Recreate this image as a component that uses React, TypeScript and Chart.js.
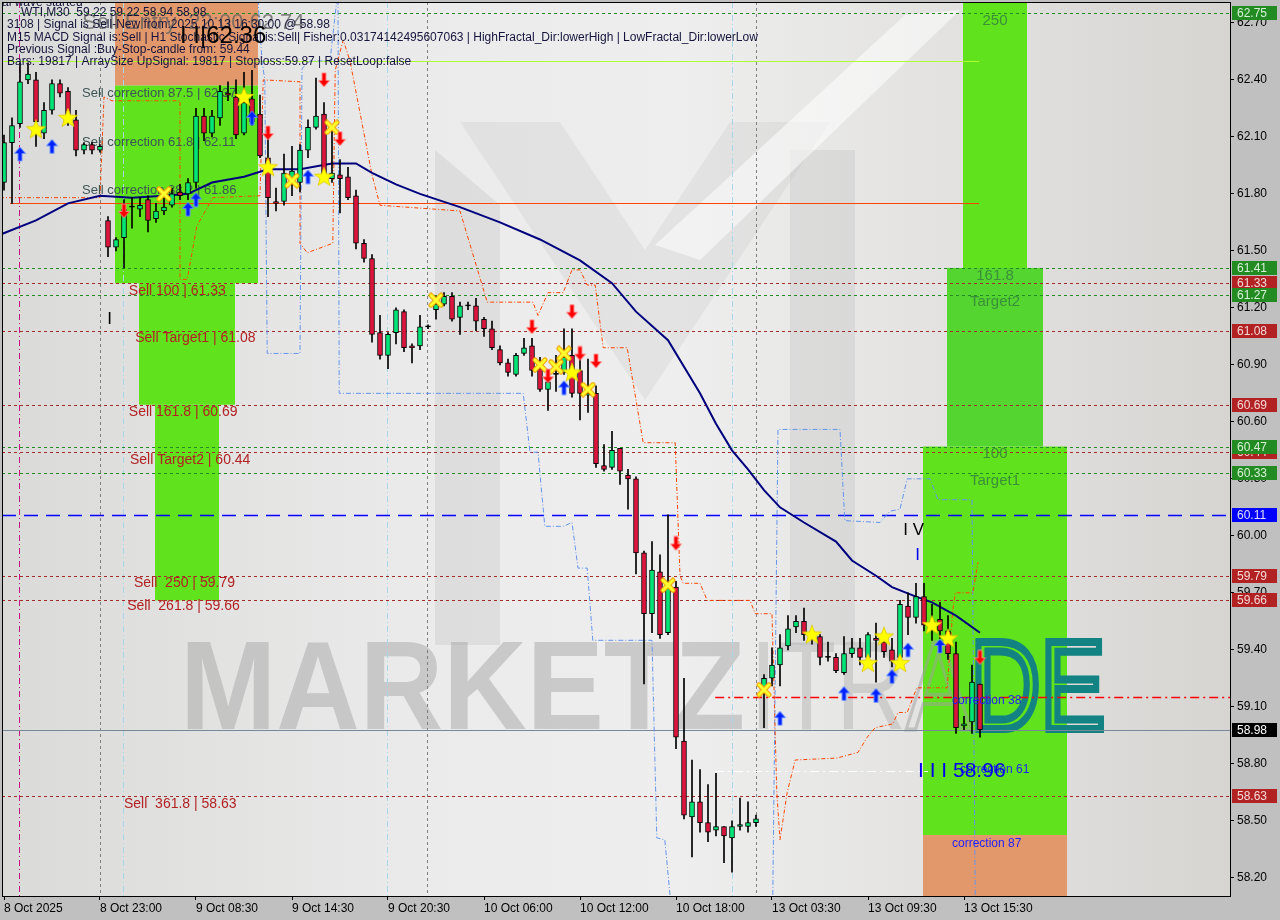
import React, { useEffect, useRef } from "react";
import { Chart, registerables } from "chart.js";
Chart.register(...registerables);

// ---------- candles (WTI, M30) ----------
const opens = [61.86,62.07,62.17,62.40,62.40,62.12,62.24,62.38,62.34,62.19,62.03,62.06,62.03,61.66,61.52,61.57,61.73,61.72,61.77,61.67,61.71,61.74,61.81,61.80,61.86,62.21,62.12,62.20,62.33,62.31,62.12,62.30,62.22,61.99,61.76,61.76,61.88,61.86,62.03,62.15,62.22,61.88,61.90,61.89,61.79,61.54,61.46,61.07,60.95,61.07,61.18,61.00,61.00,61.10,61.19,61.22,61.26,61.15,61.21,61.21,61.14,61.09,60.98,60.91,60.85,60.96,61.00,60.88,60.77,60.85,60.86,60.95,60.87,60.74,60.75,60.37,60.36,60.46,60.32,60.30,59.91,59.59,59.81,59.49,59.73,58.92,58.52,58.60,58.49,58.45,58.47,58.41,58.47,58.47,58.49,59.20,59.25,59.32,59.42,59.52,59.55,59.48,59.47,59.36,59.36,59.28,59.38,59.41,59.36,59.46,59.44,59.40,59.36,59.63,59.57,59.68,59.55,59.56,59.50,59.38,59.00,59.02,59.22];
const highs = [62.11,62.20,62.49,62.49,62.44,62.28,62.40,62.40,62.36,62.24,62.07,62.07,62.06,61.68,61.57,61.77,61.78,61.78,61.79,61.75,61.78,61.83,61.85,61.88,62.25,62.25,62.24,62.37,62.39,62.40,62.44,62.45,62.32,62.10,61.83,62.01,62.05,62.06,62.19,62.41,62.28,62.15,61.98,61.94,61.82,61.56,61.48,61.16,61.07,61.20,61.19,61.01,61.16,61.11,61.26,61.28,61.28,61.23,61.23,61.25,61.15,61.13,61.00,60.93,60.96,61.04,61.04,60.94,60.85,60.95,61.09,61.09,60.93,60.93,60.79,60.48,60.55,60.46,60.35,60.31,59.92,59.97,59.90,60.11,59.76,59.25,58.82,58.77,58.69,58.75,58.47,58.50,58.62,58.60,58.53,59.27,59.41,59.48,59.58,59.58,59.62,59.51,59.48,59.44,59.38,59.47,59.46,59.46,59.49,59.54,59.50,59.46,59.66,59.70,59.75,59.75,59.64,59.65,59.58,59.44,59.05,59.32,59.22];
const lows = [61.82,61.75,62.15,62.38,62.05,62.09,62.22,62.31,62.16,62.00,62.01,62.01,62.02,61.47,61.50,61.41,61.62,61.68,61.60,61.65,61.69,61.73,61.77,61.77,61.83,62.08,62.10,62.16,62.29,62.09,62.11,62.16,61.99,61.68,61.71,61.74,61.79,61.81,61.99,62.14,61.87,61.86,61.70,61.77,61.51,61.44,61.02,60.93,60.88,61.01,60.97,60.91,60.98,61.09,61.14,61.21,61.13,61.06,61.19,61.08,61.05,60.98,60.90,60.84,60.84,60.95,60.84,60.76,60.66,60.76,60.85,60.73,60.61,60.65,60.36,60.34,60.35,60.27,60.14,59.80,59.22,59.49,59.46,59.48,58.88,58.51,58.31,58.44,58.39,58.42,58.28,58.23,58.45,58.44,58.47,58.99,59.21,59.21,59.40,59.49,59.45,59.43,59.32,59.34,59.28,59.27,59.36,59.32,59.34,59.23,59.36,59.31,59.34,59.48,59.54,59.50,59.45,59.46,59.35,58.96,58.98,58.96,58.94];
const closes = [62.07,62.16,62.39,62.43,62.18,62.24,62.38,62.33,62.19,62.03,62.06,62.03,62.05,61.52,61.56,61.72,61.73,61.74,61.66,61.71,61.73,61.80,61.79,61.86,62.21,62.12,62.21,62.34,62.32,62.11,62.28,62.18,62.00,61.78,61.75,61.91,61.92,62.03,62.15,62.21,61.90,61.91,61.88,61.78,61.54,61.46,61.06,60.95,61.06,61.19,60.99,60.99,61.10,61.10,61.22,61.26,61.14,61.21,61.21,61.13,61.09,60.99,60.91,60.86,60.95,60.99,60.87,60.77,60.81,60.85,60.94,60.75,60.75,60.75,60.38,60.35,60.45,60.34,60.30,59.91,59.59,59.82,59.48,59.73,58.94,58.53,58.60,58.49,58.44,58.47,58.42,58.47,58.48,58.49,58.51,59.25,59.32,59.41,59.51,59.55,59.48,59.46,59.36,59.36,59.29,59.38,59.41,59.36,59.48,59.45,59.39,59.34,59.64,59.57,59.68,59.53,59.51,59.50,59.38,58.99,59.01,59.23,58.98];

// ---------- axes ----------
const timeTickIdx = [0,12,24,36,48,60,72,84,96,108,120];
const timeTickLabels = ["8 Oct 2025","8 Oct 23:00","9 Oct 08:30","9 Oct 14:30","9 Oct 20:30","10 Oct 06:00","10 Oct 12:00","10 Oct 18:00","13 Oct 03:30","13 Oct 09:30","13 Oct 15:30"];
const priceTicks = [58.2,58.5,58.8,59.1,59.4,59.7,60.0,60.3,60.6,60.9,61.2,61.5,61.8,62.1,62.4,62.7];
const priceMin = 58.104;
const priceMax = 62.81;
const idxMin = -0.25;
const idxMax = 153.25;

// ---------- moving average ----------
const maIdx = [-0.2,4,8,12,16,20,23,26,30,33,37,41,44,46,49,52,57,62,67,72,76,79,83,87,89,91,93,95,97,100,104,106,109,111,114,116,119,122];
const maVal = [61.59,61.66,61.75,61.79,61.78,61.79,61.80,61.86,61.89,61.93,61.93,61.96,61.96,61.91,61.85,61.80,61.73,61.65,61.56,61.45,61.33,61.18,61.03,60.75,60.59,60.45,60.35,60.24,60.15,60.07,59.97,59.87,59.79,59.73,59.68,59.65,59.58,59.49];

// ---------- channel lines ----------
const upperIdx = [-0.5,12,12.5,13.5,22,22,22.9,24.1,26.1,32,32.4,37,37,37.9,41.1,41.4,42.4,43.25,46,47,57,60.4,66.1,66.75,68,69.9,71,72,72.9,73.9,74.9,77.9,79.9,83.9,84.5,84.9,87,87.9,93.25,93.9,96,96.6,97,97.9,98.9,104.1,106.75,107.9,108.9,111.1,111.75,112.9,114.1,117.9,118.6,118.9,121.1,121.75];
const upperVal = [61.78,61.78,62.31,62.29,62.29,61.35,61.35,61.63,61.78,61.79,62.40,62.39,61.54,61.49,61.54,62.45,62.61,62.50,61.90,61.74,61.71,61.23,61.23,61.16,61.28,61.28,61.40,61.40,61.32,61.32,60.99,60.99,60.49,60.49,59.79,59.75,59.75,59.66,59.66,59.59,59.59,58.65,58.40,58.65,58.82,58.83,58.86,58.94,58.99,59.01,59.07,59.07,59.20,59.20,59.61,59.70,59.70,59.86];
const lowerAIdx = [31.75,32.25,32.6,32.9,37,37.25,38.25,40.75,41.6];
const lowerAVal = [62.82,62.50,62.40,60.96,60.96,62.46,62.50,62.50,62.82];
const lowerBIdx = [41.75,41.9,64.9,65.75,66.75,67.6,69.9,71,71.75,72.9,73.6,81,81.6,82.6,83.25];
const lowerBVal = [62.82,60.75,60.75,60.44,60.44,60.05,60.05,60.07,59.83,59.83,59.45,59.45,58.41,58.40,58.11];
const lowerCIdx = [96.1,96.75,104.5,105.1,109.5,110.75,112,112.9,115.75,116.75,121,121.4];
const lowerCVal = [58.11,60.56,60.56,60.08,60.07,60.13,60.14,60.30,60.30,60.19,60.19,58.11];

// ---------- signal markers ----------
const upArrowIdx = [2,6,23,24,31,38,70,97,105,109,111,113,117];
const upArrowVal = [62.01,62.05,61.72,61.77,62.20,61.89,60.78,59.04,59.17,59.16,59.26,59.40,59.42];
const downArrowIdx = [15,33,40,42,66,68,71,72,74,84,122];
const downArrowVal = [61.71,62.12,62.40,62.09,61.10,60.84,61.18,60.96,60.92,59.96,59.36];
const starIdx = [4,8,30,33,40,71,101,108,110,112,116,118];
const starVal = [62.14,62.20,62.31,61.94,61.89,60.86,59.48,59.33,59.47,59.33,59.53,59.46];
const crossIdx = [20,36,41,54,67,69,70,73,83,95];
const crossVal = [61.80,61.87,62.15,61.24,60.90,60.89,60.96,60.77,59.74,59.19];

// ---------- levels ----------
const levelPrices = [62.75,61.41,61.33,61.27,61.08,60.69,60.44,60.47,60.33,60.11,59.79,59.66,58.63];
const levelKinds = ["g","g","r","g","r","r","r","g","g","b","r","r","r"];
const currentPrice = 58.98;

// ---------- zones ----------
const zoneFrom = [13.875,13.875,16.875,18.875,119.875,117.875,114.875,114.875];
const zoneTo = [31.75,31.75,28.875,26.875,127.875,129.875,132.875,132.875];
const zoneTop = [62.9,62.37,61.33,60.69,62.9,61.41,60.47,58.425];
const zoneBottom = [62.37,61.33,60.69,59.66,61.41,60.47,58.425,58.0];
const zoneKinds = ["o","g","g","g","g","g2","g","o"];

// ---------- vertical separators ----------
const vLineIdx = [1.875,12,14.875,47.875,52.875,91,94];
const vLineKinds = ["m","s","c","c","s","c","s"];

// ---------- horizontal segments ----------
const segVal = [62.50,61.75,59.15,58.76];
const segFrom = [-0.5,0.75,88.9,88.9];
const segTo = [121.9,121.9,153.5,115.5];
const segKinds = ["yg","or","rd","wd"];

// ---------- texts ----------
const sellText = ["Sell 100 | 61.33","Sell Target1 | 61.08","Sell 161.8 | 60.69","Sell Target2 | 60.44","Sell  250 | 59.79","Sell  261.8 | 59.66","Sell  361.8 | 58.63"];
const sellIdx = [15.6,16.4,15.6,15.75,16.25,15.4,15];
const sellVal = [61.29,61.04,60.65,60.40,59.75,59.63,58.59];
const corrText = ["Sell correction 87.5 | 62.37","Sell correction 61.8 | 62.11","Sell correction 38.2 | 61.86"];
const corrIdx = [9.75,9.75,9.75];
const corrVal = [62.33,62.07,61.82];
const zoneText = ["250","161.8","Target2","100","Target1"];
const zoneTextIdx = [123.875,123.875,123.875,123.875,123.875];
const zoneTextVal = [62.71,61.37,61.23,60.43,60.29];
const blueText = ["correction 38","correction 61","correction 87"];
const blueTextIdx = [118.5,119.5,118.5];
const blueTextVal = [59.13,58.77,58.38];
const infoLines = [
  "WTI,M30  59.22 59.22 58.94 58.98",
  "3108 | Signal is Sell-New from:2025.10.13 16:30:00 @ 58.98",
  "M15 MACD Signal is:Sell | H1 Stochastic Signal is:Sell| Fisher:0.03174142495607063 | HighFractal_Dir:lowerHigh | LowFractal_Dir:lowerLow",
  "Previous Signal :Buy-Stop-candle from: 59.44",
  "Bars: 19817 | ArraySize UpSignal: 19817 | Stoploss:59.87 | ResetLoop:false",
];

const UP = "#00e676";
const DOWN = "#dc143c";
const FONT = '"Liberation Sans", Arial, sans-serif';

function arrowCanvas(fill: string, edge: string, up: boolean) {
  const c = document.createElement("canvas");
  c.width = 13; c.height = 16;
  const g = c.getContext("2d")!;
  const pts = [[6.5,1],[12,7.5],[8.5,7.5],[8.5,15],[4.5,15],[4.5,7.5],[1,7.5]];
  g.beginPath();
  pts.forEach(([x, y], k) => { const yy = up ? y : 16 - y; if (k) g.lineTo(x, yy); else g.moveTo(x, yy); });
  g.closePath();
  g.fillStyle = fill; g.fill();
  g.strokeStyle = edge; g.lineWidth = 1; g.stroke();
  return c;
}
function starCanvas() {
  const c = document.createElement("canvas");
  c.width = 22; c.height = 22;
  const g = c.getContext("2d")!;
  g.beginPath();
  for (let k = 0; k < 10; k++) {
    const r = k % 2 === 0 ? 10 : 4.2;
    const a = -Math.PI / 2 + (k * Math.PI) / 5;
    const x = 11 + r * Math.cos(a), y = 11.5 + r * Math.sin(a);
    if (k) g.lineTo(x, y); else g.moveTo(x, y);
  }
  g.closePath();
  g.fillStyle = "#ffff00"; g.fill();
  g.strokeStyle = "#e0c800"; g.lineWidth = 0.8; g.stroke();
  return c;
}
function crossCanvas() {
  const c = document.createElement("canvas");
  c.width = 16; c.height = 16;
  const g = c.getContext("2d")!;
  g.lineCap = "round";
  const draw = (w: number, col: string) => {
    g.strokeStyle = col; g.lineWidth = w;
    g.beginPath(); g.moveTo(3, 3); g.lineTo(13, 13); g.moveTo(13, 3); g.lineTo(3, 13); g.stroke();
  };
  draw(5, "#f0a000");
  draw(3, "#ffff30");
  return c;
}

function drawWatermark(ctx: CanvasRenderingContext2D) {
  ctx.save();
  ctx.fillStyle = "rgba(190,190,190,0.3)";
  ctx.beginPath(); ctx.moveTo(435, 150); ctx.lineTo(500, 205); ctx.lineTo(500, 645); ctx.lineTo(435, 645); ctx.closePath(); ctx.fill();
  ctx.beginPath(); ctx.moveTo(790, 150); ctx.lineTo(855, 150); ctx.lineTo(855, 645); ctx.lineTo(790, 645); ctx.closePath(); ctx.fill();
  ctx.fillStyle = "rgba(185,185,185,0.2)";
  ctx.beginPath(); ctx.moveTo(460, 122); ctx.lineTo(560, 122); ctx.lineTo(645, 250); ctx.lineTo(730, 122); ctx.lineTo(830, 122); ctx.lineTo(645, 400); ctx.closePath(); ctx.fill();
  ctx.fillStyle = "rgba(255,255,255,0.55)";
  ctx.beginPath(); ctx.moveTo(905, 15); ctx.lineTo(960, 10); ctx.lineTo(700, 260); ctx.lineTo(655, 245); ctx.closePath(); ctx.fill();
  ctx.font = `bold 127px ${FONT}`;
  ctx.textBaseline = "alphabetic";
  ctx.textAlign = "left";
  const w1 = ctx.measureText("MARKETZ").width;
  ctx.save();
  ctx.translate(180, 729);
  ctx.scale(565 / w1, 1);
  ctx.fillStyle = "rgba(160,160,160,0.45)";
  ctx.fillText("MARKETZ", 0, 0);
  ctx.restore();
  ctx.font = `127px ${FONT}`;
  const w2 = ctx.measureText("ITRADE").width;
  ctx.save();
  ctx.translate(750, 729);
  ctx.scale(355 / w2, 1);
  ctx.fillStyle = "rgba(160,160,160,0.35)";
  ctx.fillText("ITR", 0, 0);
  const wI = ctx.measureText("ITR").width;
  ctx.strokeStyle = "rgba(160,160,160,0.5)";
  ctx.lineWidth = 4;
  ctx.strokeText("A", wI, 0);
  const wA = ctx.measureText("A").width;
  ctx.strokeStyle = "#128282";
  ctx.lineWidth = 8;
  ctx.strokeText("DE", wI + wA, 0);
  ctx.restore();
  ctx.restore();
}

export default function App() {
  const ref = useRef<HTMLCanvasElement>(null);
  useEffect(() => {
    const canvas = ref.current!;
    const idx = opens.map((_, i) => i);
    const bodyColors = idx.map((i) => (closes[i] > opens[i] ? UP : closes[i] < opens[i] ? DOWN : "#000000"));
    const wickData = idx.map((i) => ({ x: i, y: [lows[i], highs[i]] }));
    const bodyData = idx.map((i) => ({ x: i, y: [Math.min(opens[i], closes[i]), Math.max(opens[i], closes[i])] }));
    const pts = (xs: number[], ys: number[]) => xs.map((x, k) => ({ x, y: ys[k] }));

    const upImg = arrowCanvas("#0022ff", "rgba(110,150,255,0.9)", true);
    const downImg = arrowCanvas("#ff0000", "rgba(255,140,140,0.9)", false);
    const starImg = starCanvas();
    const crossImg = crossCanvas();

    const lineDs = (data: any, color: string, width: number, dash: number[], order: number) => ({
      type: "line", data, borderColor: color, borderWidth: width, borderDash: dash,
      pointRadius: 0, tension: 0, fill: false, order, spanGaps: true,
    });
    const markDs = (data: any, img: any) => ({
      type: "line", data, showLine: false, pointStyle: img, pointRadius: 7, order: 1,
    });

    const plugin = {
      id: "mtOverlay",
      beforeDraw(chart: any) {
        const ctx = chart.ctx;
        const a = chart.chartArea;
        ctx.save();
        ctx.fillStyle = "#c0c0c0";
        ctx.fillRect(0, 0, chart.width, chart.height);
        const gr = ctx.createLinearGradient(a.left, 0, a.right, 0);
        gr.addColorStop(0, "#dadad9");
        gr.addColorStop(0.35, "#ebebeb");
        gr.addColorStop(0.55, "#eeeeee");
        gr.addColorStop(1, "#d6d5d2");
        ctx.fillStyle = gr;
        ctx.fillRect(a.left, a.top, a.right - a.left, a.bottom - a.top);
        ctx.restore();
      },
      beforeDatasetsDraw(chart: any) {
        const ctx = chart.ctx;
        const a = chart.chartArea;
        const xs = chart.scales.x, ys = chart.scales.y;
        const px = (v: number) => xs.getPixelForValue(v);
        const py = (v: number) => ys.getPixelForValue(v);
        ctx.save();
        ctx.beginPath(); ctx.rect(a.left, a.top, a.right - a.left, a.bottom - a.top); ctx.clip();
        // zones
        zoneFrom.forEach((f, k) => {
          const kind = zoneKinds[k];
          ctx.fillStyle = kind === "o" ? "#e3986b" : kind === "g2" ? "#55d530" : "#60e21c";
          const x1 = px(f), x2 = px(zoneTo[k]), y1 = py(zoneTop[k]), y2 = py(zoneBottom[k]);
          ctx.fillRect(x1, y1, x2 - x1, y2 - y1);
        });
        drawWatermark(ctx);
        // vertical separators
        vLineIdx.forEach((v, k) => {
          const kind = vLineKinds[k];
          ctx.strokeStyle = kind === "m" ? "#c71585" : kind === "s" ? "#808080" : "#a8d8e8";
          ctx.setLineDash(kind === "s" ? [3, 3] : [6, 3, 1, 3]);
          ctx.lineWidth = 1;
          const x = Math.round(px(v)) + 0.5;
          ctx.beginPath(); ctx.moveTo(x, a.top); ctx.lineTo(x, a.bottom); ctx.stroke();
        });
        // horizontal segments
        segVal.forEach((v, k) => {
          const kind = segKinds[k];
          const y = Math.round(py(v)) + 0.5;
          if (kind === "yg") { ctx.strokeStyle = "#adff2f"; ctx.setLineDash([]); ctx.lineWidth = 1; }
          else if (kind === "or") { ctx.strokeStyle = "#ff4500"; ctx.setLineDash([]); ctx.lineWidth = 1; }
          else if (kind === "rd") { ctx.strokeStyle = "#ff0000"; ctx.setLineDash([9, 4, 2, 4]); ctx.lineWidth = 1.5; }
          else { ctx.strokeStyle = "#ffffff"; ctx.setLineDash([9, 4, 2, 4]); ctx.lineWidth = 1; }
          ctx.beginPath(); ctx.moveTo(px(segFrom[k]), y); ctx.lineTo(px(segTo[k]), y); ctx.stroke();
        });
        // levels
        levelPrices.forEach((v, k) => {
          const kind = levelKinds[k];
          const y = Math.round(py(v)) + 0.5;
          if (kind === "b") { ctx.strokeStyle = "#0000ff"; ctx.setLineDash([14, 8]); ctx.lineWidth = 1.5; }
          else { ctx.strokeStyle = kind === "g" ? "#228b22" : "#a52a2a"; ctx.setLineDash([3, 3]); ctx.lineWidth = 1; }
          ctx.beginPath(); ctx.moveTo(a.left, y); ctx.lineTo(a.right, y); ctx.stroke();
        });
        ctx.setLineDash([]);
        ctx.strokeStyle = "#778899";
        ctx.lineWidth = 1;
        const yc = Math.round(py(currentPrice)) + 0.5;
        ctx.beginPath(); ctx.moveTo(a.left, yc); ctx.lineTo(a.right, yc); ctx.stroke();
        // texts under candles
        ctx.textBaseline = "middle";
        ctx.textAlign = "left";
        ctx.font = `14px ${FONT}`;
        ctx.fillStyle = "#b22222";
        sellText.forEach((t, k) => ctx.fillText(t, px(sellIdx[k]), py(sellVal[k])));
        ctx.font = `13px ${FONT}`;
        ctx.fillStyle = "#3d5555";
        corrText.forEach((t, k) => ctx.fillText(t, px(corrIdx[k]), py(corrVal[k])));
        ctx.textAlign = "center";
        ctx.font = `15px ${FONT}`;
        ctx.fillStyle = "#3a8f3a";
        zoneText.forEach((t, k) => ctx.fillText(t, px(zoneTextIdx[k]), py(zoneTextVal[k])));
        ctx.restore();
      },
      afterDatasetsDraw(chart: any) {
        const ctx = chart.ctx;
        const a = chart.chartArea;
        const xs = chart.scales.x, ys = chart.scales.y;
        const px = (v: number) => xs.getPixelForValue(v);
        const py = (v: number) => ys.getPixelForValue(v);
        ctx.save();
        ctx.beginPath(); ctx.rect(a.left, a.top, a.right - a.left, a.bottom - a.top); ctx.clip();
        ctx.textBaseline = "middle";
        ctx.textAlign = "left";
        ctx.font = `12px ${FONT}`;
        ctx.fillStyle = "#1e1eff";
        blueText.forEach((t, k) => ctx.fillText(t, px(blueTextIdx[k]), py(blueTextVal[k])));
        ctx.font = `21px ${FONT}`;
        ctx.fillStyle = "#0000ee";
        ctx.fillText("I I I 58.96", px(114.25), py(58.76));
        ctx.font = `17px ${FONT}`;
        ctx.fillStyle = "#000000";
        ctx.fillText("I", px(12.9), py(61.14));
        ctx.fillText("I V", px(112.4), py(60.03));
        ctx.fillStyle = "#0000ee";
        ctx.fillText("I", px(113.9), py(59.9));
        // info block
        ctx.font = `22px ${FONT}`;
        ctx.fillStyle = "rgba(95,95,95,0.75)";
        ctx.fillText("Sell Entry  22:00 62.74", 82, 23);
        ctx.font = `12px ${FONT}`;
        ctx.fillStyle = "#14143c";
        ctx.fillText("al wave started", 2, 3);
        ctx.fillText(infoLines[0], 21, 13);
        ctx.fillText(infoLines[1], 7, 25);
        ctx.fillText(infoLines[2], 7, 38);
        ctx.fillText(infoLines[3], 7, 50);
        ctx.fillText(infoLines[4], 7, 62);
        ctx.font = `24px ${FONT}`;
        ctx.fillStyle = "#000000";
        ctx.fillText("I I|62.36", 180, 36);
        ctx.restore();
      },
      afterDraw(chart: any) {
        const ctx = chart.ctx;
        const a = chart.chartArea;
        const ys = chart.scales.y;
        ctx.save();
        ctx.strokeStyle = "#000000";
        ctx.lineWidth = 1;
        ctx.strokeRect(a.left + 0.5, a.top + 0.5, a.right - a.left, a.bottom - a.top);
        ctx.font = `12px ${FONT}`;
        ctx.textBaseline = "middle";
        ctx.textAlign = "left";
        const tag = (v: number, bg: string, fg: string) => {
          const y = Math.round(ys.getPixelForValue(v));
          ctx.fillStyle = bg;
          ctx.fillRect(a.right + 2, y - 7, 45, 14);
          ctx.fillStyle = fg;
          ctx.fillText(v.toFixed(2), a.right + 7, y + 0.5);
        };
        levelPrices.forEach((v, k) => {
          const kind = levelKinds[k];
          if (kind === "g") tag(v, "#228b22", "#d8f0d8");
          else if (kind === "r") tag(v, "#b22222", "#f4d8d8");
          else tag(v, "#0000ff", "#e0e0ff");
        });
        tag(currentPrice, "#000000", "#ffffff");
        ctx.restore();
      },
    };

    const chart = new Chart(canvas, {
      type: "bar",
      data: {
        datasets: [
          lineDs(pts(upperIdx, upperVal), "#ff4500", 1, [4, 2, 1, 2], 10),
          lineDs(pts(lowerAIdx, lowerAVal), "#6495ed", 1, [5, 2, 1, 2], 10),
          lineDs(pts(lowerBIdx, lowerBVal), "#6495ed", 1, [5, 2, 1, 2], 10),
          lineDs(pts(lowerCIdx, lowerCVal), "#6495ed", 1, [5, 2, 1, 2], 10),
          lineDs(pts(maIdx, maVal), "#00007f", 2, [], 8),
          { type: "bar", data: wickData, backgroundColor: "#000000", borderWidth: 0, barThickness: 1, grouped: false, order: 6 },
          { type: "bar", data: bodyData, backgroundColor: bodyColors, borderColor: "#000000", borderWidth: 1, borderSkipped: false, barThickness: 5, minBarLength: 1, grouped: false, order: 5 },
          markDs(pts(upArrowIdx, upArrowVal), upImg),
          markDs(pts(downArrowIdx, downArrowVal), downImg),
          markDs(pts(starIdx, starVal), starImg),
          markDs(pts(crossIdx, crossVal), crossImg),
        ] as any,
      },
      options: {
        responsive: false,
        animation: false,
        devicePixelRatio: 1,
        layout: { autoPadding: false, padding: { left: 2, top: 2, right: 0, bottom: 0 } },
        plugins: { legend: { display: false }, tooltip: { enabled: false } },
        events: [],
        scales: {
          x: {
            type: "linear",
            min: idxMin,
            max: idxMax,
            offset: false,
            grid: { display: true, drawOnChartArea: false, drawTicks: true, tickLength: 4, color: "#000000", offset: false },
            border: { display: false },
            afterBuildTicks: (s: any) => { s.ticks = timeTickIdx.map((v) => ({ value: v })); },
            afterFit: (s: any) => { s.height = 24; s.paddingLeft = 0; s.paddingRight = 0; s.paddingTop = 0; s.paddingBottom = 0; },
            ticks: {
              autoSkip: false, maxRotation: 0, minRotation: 0, align: "start", padding: 1,
              color: "#000000", font: { family: FONT, size: 12 },
              callback: (v: any) => { const k = timeTickIdx.indexOf(Number(v)); return k >= 0 ? timeTickLabels[k] : ""; },
            },
          },
          y: {
            type: "linear",
            position: "right",
            min: priceMin,
            max: priceMax,
            grid: { display: true, drawOnChartArea: false, drawTicks: true, tickLength: 4, color: "#000000" },
            border: { display: false },
            afterBuildTicks: (s: any) => { s.ticks = priceTicks.map((v) => ({ value: v })); },
            afterFit: (s: any) => { s.width = 50; s.paddingLeft = 0; s.paddingRight = 0; s.paddingTop = 0; s.paddingBottom = 0; },
            ticks: {
              padding: 3, color: "#000000", font: { family: FONT, size: 12 },
              callback: (v: any) => Number(v).toFixed(2),
            },
          },
        },
      } as any,
      plugins: [plugin],
    } as any);
    return () => chart.destroy();
  }, []);
  return (
    <div style={{ position: "absolute", left: 0, top: 0, width: 1280, height: 920 }}>
      <canvas ref={ref} width={1280} height={920} style={{ display: "block" }} />
    </div>
  );
}
